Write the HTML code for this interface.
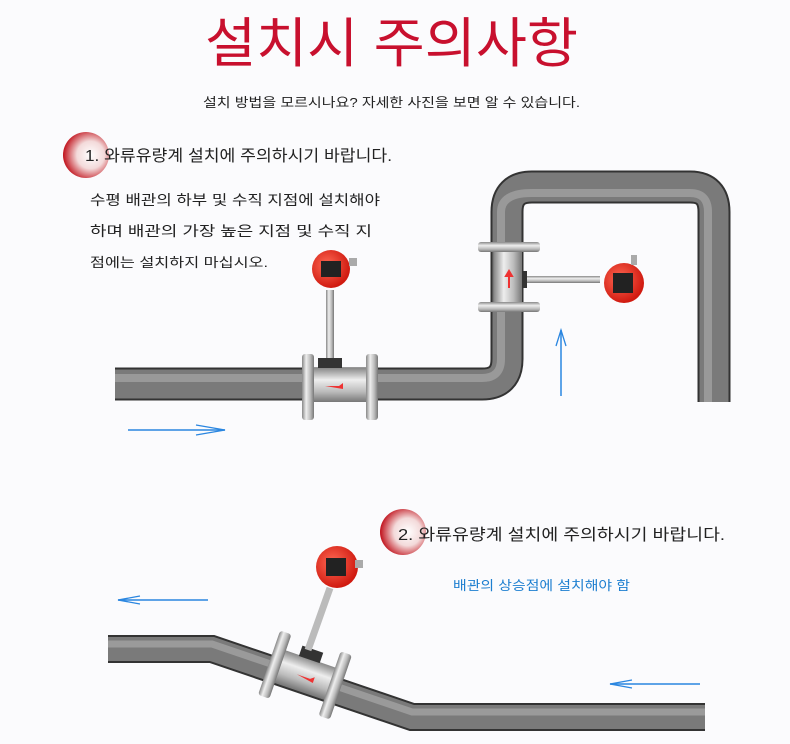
<!DOCTYPE html>
<html><head><meta charset="utf-8"><style>
body{margin:0;background:#fbfbfd;}
svg{display:block}
text{font-family:"Liberation Sans","Noto Sans CJK KR","NanumGothic",sans-serif}
</style></head><body>
<svg width="790" height="744" viewBox="0 0 790 744" xmlns="http://www.w3.org/2000/svg">
<defs>
<linearGradient id="silv" x1="0" y1="0" x2="0" y2="1">
<stop offset="0" stop-color="#888"/><stop offset=".35" stop-color="#eee"/><stop offset=".7" stop-color="#bbb"/><stop offset="1" stop-color="#777"/></linearGradient>
<linearGradient id="silvh" x1="0" y1="0" x2="1" y2="0">
<stop offset="0" stop-color="#888"/><stop offset=".35" stop-color="#eee"/><stop offset=".7" stop-color="#bbb"/><stop offset="1" stop-color="#777"/></linearGradient>
<radialGradient id="red" cx=".4" cy=".4" r=".6"><stop offset="0" stop-color="#ff6a55"/><stop offset="1" stop-color="#d01a10"/></radialGradient>
<radialGradient id="badge" cx=".6" cy=".5" r=".6"><stop offset="0" stop-color="#fff"/><stop offset=".5" stop-color="#f3dada"/><stop offset="1" stop-color="#c0101a"/></radialGradient>
</defs>
<rect width="790" height="744" fill="#fbfbfd"/>
<text x="205" y="62" font-size="54" fill="#c8102e" textLength="373" lengthAdjust="spacingAndGlyphs">설치시 주의사항</text>
<text x="203" y="107" font-size="13" fill="#222" textLength="377" lengthAdjust="spacingAndGlyphs">설치 방법을 모르시나요? 자세한 사진을 보면 알 수 있습니다.</text>

<circle cx="86" cy="155" r="23" fill="url(#badge)"/>
<text x="85" y="161" font-size="16" fill="#222" textLength="307" lengthAdjust="spacingAndGlyphs">1. 와류유량계 설치에 주의하시기 바랍니다.</text>
<text x="90" y="205" font-size="14" fill="#222" textLength="290" lengthAdjust="spacingAndGlyphs">수평 배관의 하부 및 수직 지점에 설치해야</text>
<text x="90" y="236" font-size="14" fill="#222" textLength="282" lengthAdjust="spacingAndGlyphs">하며 배관의 가장 높은 지점 및 수직 지</text>
<text x="90" y="267" font-size="13" fill="#222" textLength="178" lengthAdjust="spacingAndGlyphs">점에는 설치하지 마십시오.</text>

<!-- pipe 1 -->
<path d="M115,384 H482 Q507,384 507,359 V212 Q507,187 532,187 H690 Q714,187 714,212 V402" fill="none" stroke="#333" stroke-width="33"/>
<path d="M115,384 H482 Q507,384 507,359 V212 Q507,187 532,187 H690 Q714,187 714,212 V402" fill="none" stroke="#7a7a7a" stroke-width="29"/>
<path d="M115,378 H482 Q501,378 501,359 V212 Q501,193 532,193 H690 Q708,193 708,212 V402" fill="none" stroke="#999" stroke-width="8"/>

<!-- meter 1 -->
<rect x="326" y="290" width="8" height="70" fill="url(#silvh)"/>
<rect x="318" y="358" width="24" height="12" fill="#333"/>
<rect x="310" y="368" width="60" height="34" fill="url(#silv)"/>
<rect x="302" y="354" width="12" height="66" rx="3" fill="url(#silvh)"/>
<rect x="366" y="354" width="12" height="66" rx="3" fill="url(#silvh)"/>
<path d="M325,386 h14 l4,-3 v6 z" fill="#e33"/>
<circle cx="331" cy="269" r="19" fill="url(#red)"/>
<rect x="321" y="261" width="20" height="16" fill="#222"/>
<rect x="349" y="258" width="8" height="8" fill="#aaa"/>

<!-- meter 2 -->
<rect x="520" y="276" width="80" height="7" fill="url(#silv)"/>
<rect x="515" y="271" width="12" height="17" fill="#333"/>
<rect x="494" y="250" width="28" height="56" fill="url(#silvh)"/>
<rect x="478" y="242" width="62" height="10" rx="3" fill="url(#silv)"/>
<rect x="478" y="302" width="62" height="10" rx="3" fill="url(#silv)"/>
<path d="M509,288 v-12 l-3,0 l3,-5 l3,5 h-3" fill="#e33" stroke="#e33" stroke-width="2"/>
<circle cx="624" cy="283" r="20" fill="url(#red)"/>
<rect x="613" y="273" width="20" height="20" fill="#222"/>
<rect x="631" y="255" width="6" height="10" fill="#aaa"/>

<!-- arrows 1 -->
<line x1="128" y1="430" x2="225" y2="430" stroke="#2a86e0" stroke-width="1.5"/>
<path d="M196,425 L225,430 L196,435" fill="none" stroke="#2a86e0" stroke-width="1.3"/>
<line x1="561" y1="396" x2="561" y2="330" stroke="#2a86e0" stroke-width="1.5"/>
<path d="M556,346 L561,330 L566,346" fill="none" stroke="#2a86e0" stroke-width="1.3"/>

<!-- section 2 -->
<circle cx="403" cy="532" r="23" fill="url(#badge)"/>
<text x="398" y="540" font-size="16" fill="#222" textLength="327" lengthAdjust="spacingAndGlyphs">2. 와류유량계 설치에 주의하시기 바랍니다.</text>
<text x="453" y="590" font-size="13" fill="#1e7fd0" textLength="177" lengthAdjust="spacingAndGlyphs">배관의 상승점에 설치해야 함</text>
<line x1="118" y1="600" x2="208" y2="600" stroke="#2a86e0" stroke-width="1.5"/>
<path d="M140,596 L118,600 L140,604" fill="none" stroke="#2a86e0" stroke-width="1.3"/>
<line x1="610" y1="684" x2="700" y2="684" stroke="#2a86e0" stroke-width="1.5"/>
<path d="M632,680 L610,684 L632,688" fill="none" stroke="#2a86e0" stroke-width="1.3"/>

<path d="M108,649 H212 L412,717 H705" fill="none" stroke="#333" stroke-width="28"/>
<path d="M108,649 H212 L412,717 H705" fill="none" stroke="#7a7a7a" stroke-width="24"/>
<path d="M108,644 H212 L412,712 H705" fill="none" stroke="#9a9a9a" stroke-width="7"/>

<g transform="translate(305,675) rotate(19)">
<rect x="-30" y="-17" width="60" height="34" fill="url(#silv)"/>
<rect x="-38" y="-34" width="12" height="68" rx="3" fill="url(#silvh)"/>
<rect x="26" y="-34" width="12" height="68" rx="3" fill="url(#silvh)"/>
<rect x="-12" y="-27" width="22" height="11" fill="#333"/>
<path d="M-8,2 h14 l4,-3 v6 z" fill="#e33"/>
</g>
<line x1="308" y1="650" x2="330" y2="588" stroke="#bbb" stroke-width="7"/>
<circle cx="337" cy="567" r="21" fill="url(#red)"/>
<rect x="326" y="558" width="20" height="18" fill="#222"/>
<rect x="355" y="560" width="8" height="8" fill="#aaa"/>
</svg>
</body></html>
